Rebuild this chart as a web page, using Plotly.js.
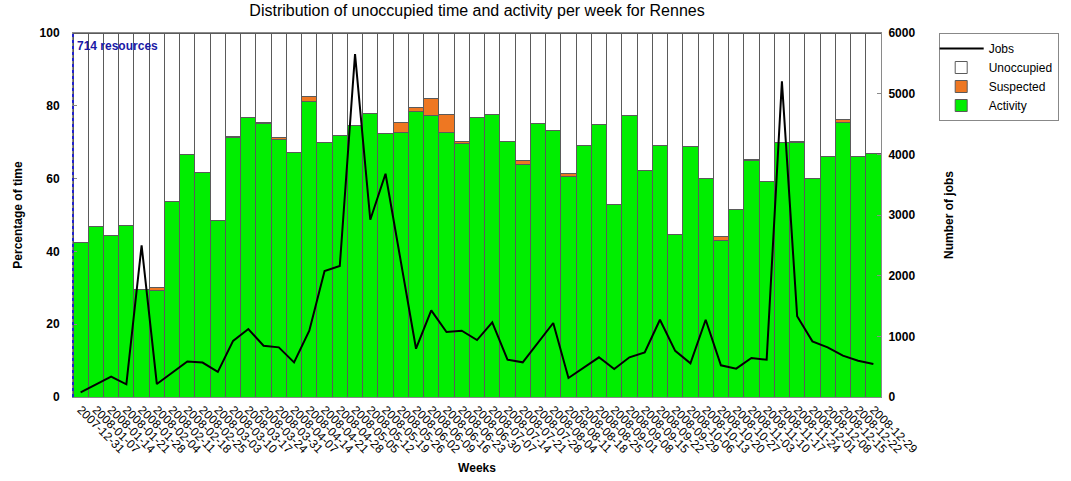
<!DOCTYPE html>
<html>
<head>
<meta charset="utf-8">
<script src="https://cdn.plot.ly/plotly-3.0.1.min.js"></script>
<style>
  html, body { margin: 0; padding: 0; background: #ffffff; }
  #chart { width: 1071px; height: 481px; }
</style>
</head>
<body>
<div id="chart"></div>
<script>
const weeks = [
  "2007-12-31","2008-01-07","2008-01-14","2008-01-21","2008-01-28","2008-02-04","2008-02-11","2008-02-18","2008-02-25",
  "2008-03-03","2008-03-10","2008-03-17","2008-03-24","2008-03-31","2008-04-07","2008-04-14","2008-04-21","2008-04-28",
  "2008-05-05","2008-05-12","2008-05-19","2008-05-26","2008-06-02","2008-06-09","2008-06-16","2008-06-23","2008-06-30",
  "2008-07-07","2008-07-14","2008-07-21","2008-07-28","2008-08-04","2008-08-11","2008-08-18","2008-08-25","2008-09-01",
  "2008-09-08","2008-09-15","2008-09-22","2008-09-29","2008-10-06","2008-10-13","2008-10-20","2008-10-27","2008-11-03",
  "2008-11-10","2008-11-17","2008-11-24","2008-12-01","2008-12-08","2008-12-15","2008-12-22","2008-12-29"
];
const activity = [
  42.5, 46.9, 44.4, 47.2, 29.5, 29.3, 53.8, 66.5, 61.6,
  48.4, 71.4, 76.7, 75.2, 70.8, 67.3, 81.2, 69.9, 71.8,
  74.5, 77.9, 72.5, 72.8, 78.3, 77.3, 72.8, 69.7, 76.9,
  77.6, 70.1, 63.9, 75.1, 73.3, 60.5, 69.0, 75.0, 52.9,
  77.4, 62.3, 69.1, 44.7, 68.8, 60.1, 42.9, 51.6, 65.0,
  59.2, 69.9, 69.9, 59.9, 66.1, 75.5, 66.2, 66.9
];
const suspected = [
  0, 0, 0, 0, 0, 0.8, 0, 0, 0,
  0, 0.3, 0, 0.2, 0.6, 0, 1.3, 0, 0,
  0, 0, 0, 2.6, 1.1, 4.6, 4.9, 0.6, 0,
  0, 0, 1.1, 0, 0, 1.0, 0, 0, 0,
  0, 0, 0, 0, 0, 0, 1.2, 0, 0.2,
  0, 0, 0.3, 0.2, 0, 0.7, 0, 0
];
const unoccupied = [
  57.5, 53.1, 55.6, 52.8, 70.5, 69.9, 46.2, 33.5, 38.4,
  51.6, 28.3, 23.3, 24.6, 28.6, 32.7, 17.5, 30.1, 28.2,
  25.5, 22.1, 27.5, 24.6, 20.6, 18.1, 22.3, 29.7, 23.1,
  22.4, 29.9, 35.0, 24.9, 26.7, 38.5, 31.0, 25.0, 47.1,
  22.6, 37.7, 30.9, 55.3, 31.2, 39.9, 55.9, 48.4, 34.8,
  40.8, 30.1, 29.8, 39.9, 33.9, 23.8, 33.8, 33.1
];
const jobs = [
  75, 205, 335, 209, 2500, 214, 400, 585, 568,
  415, 925, 1121, 846, 818, 571, 1093, 2076, 2159,
  5653, 2922, 3680, 2240, 796, 1428, 1071, 1093, 939,
  1231, 615, 571, 895, 1220, 313, 483, 654, 461,
  654, 736, 1274, 760, 555, 1274, 522, 467, 643,
  615, 5203, 1330, 917, 818, 681, 599, 544
];
const resourcesLabel = "714 resources";

const font = "Liberation Sans, Arial, Helvetica, sans-serif";
const barLine = { color: "#5a5a5a", width: 1 };

const traces = [
  { type: "bar", name: "Activity", x: weeks, y: activity,
    marker: { color: "#00ee00", line: barLine }, legendrank: 4 },
  { type: "bar", name: "Suspected", x: weeks, y: suspected,
    marker: { color: "#ee7722", line: barLine }, legendrank: 3 },
  { type: "bar", name: "Unoccupied", x: weeks, y: unoccupied,
    marker: { color: "#ffffff", line: barLine }, legendrank: 2 },
  { type: "scatter", mode: "lines", name: "Jobs", x: weeks, y: jobs, yaxis: "y2",
    line: { color: "#000000", width: 2 }, legendrank: 1 }
];

const layout = {
  width: 1071, height: 481,
  margin: { l: 73, r: 186, t: 33, b: 84 },
  paper_bgcolor: "#ffffff", plot_bgcolor: "#ffffff",
  barmode: "stack", bargap: 0,
  font: { family: font, color: "#000000", size: 12 },
  showlegend: true,
  title: { text: "Distribution of unoccupied time and activity per week for Rennes",
           font: { family: font, size: 16, color: "#000" },
           x: 0.5, xref: "paper", y: 0.978, yref: "container", yanchor: "middle" },
  xaxis: {
    type: "category", tickmode: "array", tickvals: weeks, ticktext: weeks,
    tickangle: 45, tickfont: { size: 12, family: font },
    showgrid: false, zeroline: false, showline: true, mirror: true, linecolor: "#8a8a8a",
    ticks: "", title: { text: "<b>Weeks</b>", font: { size: 12 }, standoff: 8 },
    automargin: false
  },
  yaxis: {
    range: [0, 100], dtick: 20, showgrid: false, zeroline: false,
    showline: true, linecolor: "#8a8a8a", ticks: "inside", ticklen: 4, tickcolor: "#8a8a8a",
    tickfont: { size: 12 }, tickprefix: "<b>", ticksuffix: "</b>", ticklabelstandoff: 10,
    title: { text: "<b>Percentage of time</b>", font: { size: 12 }, standoff: 14 },
    automargin: false
  },
  yaxis2: {
    overlaying: "y", side: "right", range: [0, 6000], dtick: 1000,
    showgrid: false, zeroline: false, showline: true, linecolor: "#8a8a8a",
    ticks: "inside", ticklen: 4, tickcolor: "#8a8a8a",
    tickfont: { size: 12 }, tickprefix: "<b>", ticksuffix: "</b>", ticklabelstandoff: 4,
    title: { text: "<b>Number of jobs</b>", font: { size: 12 }, standoff: 30 },
    automargin: false
  },
  legend: {
    x: 1.0714, xanchor: "left", y: 1, yanchor: "top",
    bordercolor: "#888888", borderwidth: 1, bgcolor: "#ffffff",
    font: { size: 12, family: font }, traceorder: "normal",
    tracegroupgap: 0, itemwidth: 45, indentation: -6
  },
  shapes: [
    { type: "line", xref: "paper", yref: "paper", x0: 0, x1: 0, y0: 0, y1: 1,
      line: { color: "#2222cc", width: 2, dash: "dot" } }
  ],
  annotations: [
    { text: "<b>" + resourcesLabel + "</b>", xref: "paper", yref: "paper",
      x: 0.003, y: 0.99, xanchor: "left", yanchor: "top", showarrow: false,
      font: { size: 12, color: "#1a1aa6", family: font } }
  ]
};

Plotly.newPlot("chart", traces, layout, { displayModeBar: false, staticPlot: true });
</script>
</body>
</html>
